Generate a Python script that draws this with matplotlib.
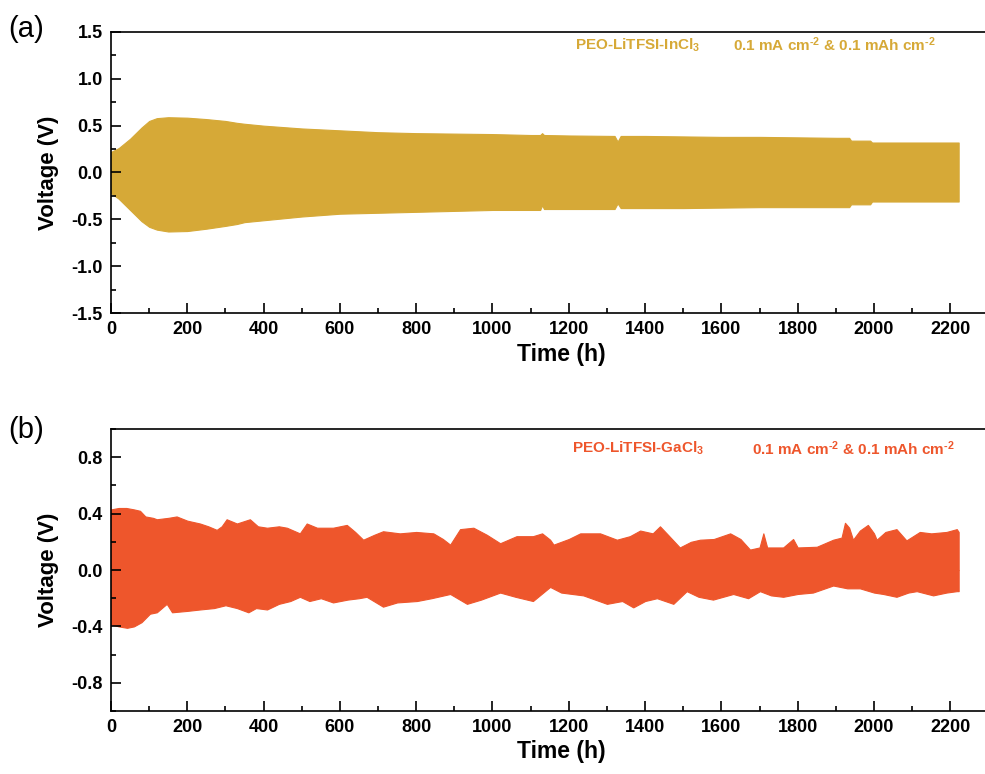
import matplotlib
matplotlib.use("Agg")
import matplotlib.pyplot as plt
from matplotlib.ticker import MultipleLocator

plt.rcParams['font.family'] = ['Liberation Sans', 'DejaVu Sans']
plt.rcParams['mathtext.fontset'] = 'custom'
plt.rcParams['mathtext.rm'] = 'Liberation Sans:bold'
plt.rcParams['mathtext.bf'] = 'Liberation Sans:bold'
plt.rcParams['mathtext.it'] = 'Liberation Sans:bold'

# ---- Panel (a): PEO-LiTFSI-InCl3 voltage envelope ----
t_a = [0, 20, 50, 80, 100, 120, 150, 200, 250, 300, 330, 350, 400, 500, 600, 700,
       800, 900, 1000, 1100, 1125, 1130, 1135, 1200, 1320, 1328, 1336, 1400, 1500,
       1600, 1700, 1800, 1900, 1935, 1940, 1990, 1995, 2100, 2222]
up_a = [0.22, 0.26, 0.36, 0.48, 0.55, 0.58, 0.59, 0.585, 0.57, 0.55, 0.53, 0.52, 0.50,
        0.47, 0.45, 0.43, 0.42, 0.415, 0.41, 0.40, 0.40, 0.42, 0.40, 0.395, 0.39, 0.33,
        0.39, 0.39, 0.385, 0.38, 0.38, 0.375, 0.37, 0.37, 0.34, 0.34, 0.32, 0.32, 0.32]
low_a = [-0.22, -0.28, -0.40, -0.52, -0.58, -0.61, -0.63, -0.625, -0.60, -0.57, -0.55,
         -0.53, -0.51, -0.47, -0.44, -0.43, -0.42, -0.41, -0.40, -0.40, -0.40, -0.35,
         -0.39, -0.39, -0.39, -0.33, -0.38, -0.38, -0.38, -0.375, -0.37, -0.37, -0.37,
         -0.37, -0.34, -0.34, -0.31, -0.31, -0.31]

# ---- Panel (b): PEO-LiTFSI-GaCl3 voltage envelope ----
t_b_up = [0, 20, 40, 60, 76, 90, 110, 120, 150, 172, 200, 233, 255, 277, 290, 303, 330,
          364, 385, 409, 440, 461, 495, 513, 540, 582, 618, 640, 661, 690, 713, 757, 800,
          845, 870, 889, 915, 950, 985, 1020, 1063, 1106, 1130, 1151, 1160, 1200, 1230,
          1282, 1326, 1360, 1387, 1420, 1439, 1460, 1491, 1520, 1544, 1580, 1623, 1650,
          1675, 1700, 1710, 1720, 1762, 1788, 1800, 1850, 1893, 1915, 1924, 1935, 1945,
          1963, 1984, 2000, 2007, 2030, 2059, 2085, 2120, 2150, 2190, 2217, 2222]
up_b = [0.43, 0.44, 0.44, 0.43, 0.42, 0.38, 0.37, 0.36, 0.37, 0.38, 0.35, 0.33, 0.31,
        0.285, 0.31, 0.36, 0.33, 0.36, 0.31, 0.30, 0.31, 0.30, 0.26, 0.33, 0.30, 0.30,
        0.32, 0.27, 0.215, 0.25, 0.275, 0.26, 0.27, 0.26, 0.22, 0.18, 0.29, 0.30, 0.25,
        0.19, 0.24, 0.24, 0.26, 0.215, 0.18, 0.22, 0.26, 0.26, 0.215, 0.24, 0.28, 0.26,
        0.31, 0.25, 0.16, 0.20, 0.215, 0.22, 0.26, 0.22, 0.145, 0.16, 0.26, 0.16, 0.16,
        0.22, 0.16, 0.165, 0.215, 0.23, 0.335, 0.30, 0.215, 0.28, 0.32, 0.26, 0.215,
        0.27, 0.29, 0.21, 0.27, 0.26, 0.27, 0.29, 0.27]
t_b_low = [0, 20, 42, 60, 80, 102, 120, 146, 160, 200, 233, 270, 300, 330, 360, 380, 409,
           440, 470, 495, 520, 550, 582, 620, 650, 670, 713, 750, 802, 840, 889, 933, 970,
           1020, 1060, 1106, 1151, 1180, 1238, 1300, 1340, 1369, 1400, 1431, 1474, 1509,
           1540, 1578, 1631, 1670, 1701, 1730, 1762, 1800, 1840, 1893, 1930, 1963, 2000,
           2024, 2059, 2090, 2112, 2155, 2190, 2217, 2222]
low_b = [-0.385, -0.40, -0.41, -0.40, -0.37, -0.31, -0.30, -0.24, -0.30, -0.29, -0.28,
         -0.27, -0.25, -0.27, -0.30, -0.27, -0.28, -0.24, -0.22, -0.19, -0.22, -0.20,
         -0.23, -0.21, -0.20, -0.19, -0.26, -0.23, -0.22, -0.20, -0.17, -0.24, -0.21,
         -0.16, -0.19, -0.22, -0.12, -0.16, -0.18, -0.24, -0.22, -0.265, -0.22, -0.20,
         -0.24, -0.15, -0.19, -0.21, -0.17, -0.20, -0.15, -0.18, -0.19, -0.17, -0.16,
         -0.11, -0.13, -0.13, -0.16, -0.17, -0.19, -0.16, -0.15, -0.18, -0.16, -0.15,
         -0.15]

x_ticks = list(range(0, 2201, 200))
col_a = '#D6A937'
col_b = '#EE562C'

fig = plt.figure(figsize=(9.85, 7.74), dpi=100)
ax_a = fig.add_axes([0.1127, 0.5956, 0.914, 0.3631])
ax_b = fig.add_axes([0.1127, 0.0814, 0.914, 0.3643])

ax_a.fill_between(t_a, low_a, up_a, color=col_a, linewidth=0.8, edgecolor=col_a)
ax_b.fill_between(t_b_up, 0, up_b, color=col_b, linewidth=0.8, edgecolor=col_b)
ax_b.fill_between(t_b_low, low_b, 0, color=col_b, linewidth=0.8, edgecolor=col_b)

ax_a.set_ylim(-1.5, 1.5)
ax_a.set_yticks([-1.5, -1.0, -0.5, 0.0, 0.5, 1.0, 1.5])
ax_a.set_yticklabels(['-1.5', '-1.0', '-0.5', '0.0', '0.5', '1.0', '1.5'])
ax_a.yaxis.set_minor_locator(MultipleLocator(0.25))

ax_b.set_ylim(-1.0, 1.0)
ax_b.set_yticks([-0.8, -0.4, 0.0, 0.4, 0.8])
ax_b.set_yticklabels(['-0.8', '-0.4', '0.0', '0.4', '0.8'])
ax_b.yaxis.set_minor_locator(MultipleLocator(0.2))

for ax in (ax_a, ax_b):
    ax.set_xlim(0, 2360)
    ax.set_xticks(x_ticks)
    ax.set_xticklabels([str(v) for v in x_ticks])
    ax.xaxis.set_minor_locator(MultipleLocator(100))
    ax.tick_params(which='both', direction='in', top=False, right=False, width=1.2)
    ax.tick_params(which='major', length=7, labelsize=13, pad=6)
    ax.tick_params(which='minor', length=3.5)
    for lab in ax.get_xticklabels() + ax.get_yticklabels():
        lab.set_fontweight('bold')
    for s in ax.spines.values():
        s.set_linewidth(1.2)
    ax.set_xlabel('Time (h)', fontsize=16.5, fontweight='bold', labelpad=3)
    ax.set_ylabel('Voltage (V)', fontsize=16, fontweight='bold', labelpad=9)

sup = '$^{\u2010' + '2}$'
ax_a.text(1216, 1.36, r'PEO-LiTFSI-InCl$_3$', color=col_a, fontsize=11,
          fontweight='bold', va='center', ha='left')
ax_a.text(1630, 1.36, '0.1 mA cm' + sup + ' & 0.1 mAh cm' + sup, color=col_a,
          fontsize=11, fontweight='bold', va='center', ha='left')
ax_b.text(1208, 0.86, r'PEO-LiTFSI-GaCl$_3$', color=col_b, fontsize=11,
          fontweight='bold', va='center', ha='left')
ax_b.text(1680, 0.86, '0.1 mA cm' + sup + ' & 0.1 mAh cm' + sup, color=col_b,
          fontsize=11, fontweight='bold', va='center', ha='left')

fig.text(0.008, 0.962, '(a)', fontsize=21, va='center', ha='left')
fig.text(0.008, 0.445, '(b)', fontsize=21, va='center', ha='left')

fig.savefig('out.png', dpi=100)
